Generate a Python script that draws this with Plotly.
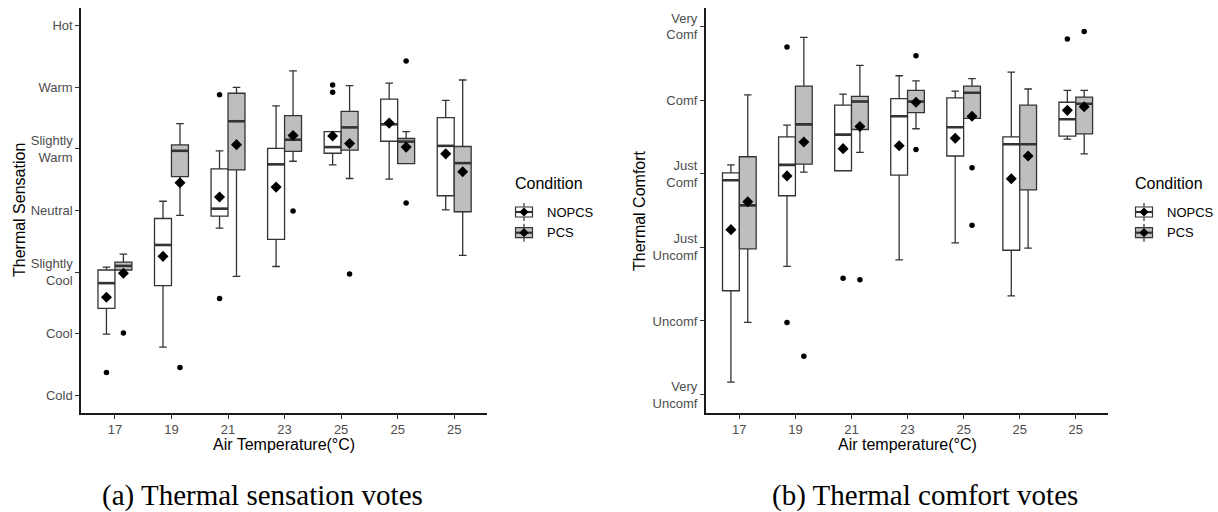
import plotly.graph_objects as go

W, H = 1218, 512

# ---------------- data ----------------
categories = ["17", "19", "21", "23", "25", "25", "25"]
series_names = ["NOPCS", "PCS"]

# (a) Thermal sensation  (Cold=-3 ... Hot=3)
sens_ticks = [-3, -2, -1, 0, 1, 2, 3]
sens_labels = ["Cold", "Cool", "Slightly<br>Cool", "Neutral", "Slightly<br>Warm", "Warm", "Hot"]

sens_nopcs_q1 = [-1.59, -1.22, -0.09, -0.47, 0.93, 1.125, 0.24]
sens_nopcs_med = [-1.18, -0.56, 0.03, 0.75, 1.03, 1.40, 1.05]
sens_nopcs_q3 = [-0.967, -0.13, 0.675, 1.01, 1.28, 1.81, 1.51]
sens_nopcs_lo = [-2.01, -2.22, -0.285, -0.91, 0.74, 0.51, 0.01]
sens_nopcs_hi = [-0.92, 0.15, 0.97, 1.70, 1.28, 2.07, 1.79]
sens_nopcs_mean = [-1.41, -0.745, 0.22, 0.38, 1.21, 1.42, 0.92]
sens_nopcs_out_idx = [0, 2, 2, 4, 4]
sens_nopcs_out_val = [-2.63, 1.88, -1.43, 2.04, 1.92]

sens_pcs_q1 = [-0.967, 0.55, 0.66, 0.96, 0.98, 0.76, -0.02]
sens_pcs_med = [-0.90, 0.97, 1.45, 1.15, 1.35, 1.12, 0.77]
sens_pcs_q3 = [-0.84, 1.065, 1.905, 1.54, 1.61, 1.17, 1.04]
sens_pcs_lo = [-0.967, -0.08, -1.07, 0.80, 0.52, 0.76, -0.73]
sens_pcs_hi = [-0.71, 1.41, 2.00, 2.27, 2.03, 1.28, 2.12]
sens_pcs_mean = [-1.02, 0.45, 1.07, 1.22, 1.09, 1.03, 0.63]
sens_pcs_out_idx = [0, 1, 3, 4, 5, 5]
sens_pcs_out_val = [-1.99, -2.55, -0.01, -1.03, 2.43, 0.12]

# (b) Thermal comfort  (Very Uncomf=1 ... Very Comf=6)
comf_ticks = [1, 2, 3, 4, 5, 6]
comf_labels = ["Very<br>Uncomf", "Uncomf", "Just<br>Uncomf", "Just<br>Comf", "Comf", "Very<br>Comf"]

comf_nopcs_q1 = [2.41, 3.70, 4.04, 3.98, 4.24, 2.96, 4.51]
comf_nopcs_med = [3.91, 4.12, 4.53, 4.78, 4.63, 4.40, 4.74]
comf_nopcs_q3 = [4.01, 4.50, 4.93, 5.02, 5.03, 4.50, 4.97]
comf_nopcs_lo = [1.17, 2.74, 4.04, 2.83, 3.06, 2.34, 4.47]
comf_nopcs_hi = [4.12, 4.66, 5.08, 5.33, 5.12, 5.38, 5.13]
comf_nopcs_mean = [3.24, 3.97, 4.34, 4.38, 4.48, 3.93, 4.86]
comf_nopcs_out_idx = [1, 1, 2, 6]
comf_nopcs_out_val = [5.72, 1.98, 2.58, 5.83]

comf_pcs_q1 = [2.98, 4.13, 4.60, 4.83, 4.75, 3.78, 4.54]
comf_pcs_med = [3.57, 4.67, 4.98, 4.98, 5.10, 4.40, 4.95]
comf_pcs_q3 = [4.23, 5.19, 5.05, 5.13, 5.19, 4.93, 5.04]
comf_pcs_lo = [1.98, 4.02, 4.29, 4.61, 4.75, 2.99, 4.27]
comf_pcs_hi = [5.07, 5.85, 5.47, 5.26, 5.29, 5.15, 5.13]
comf_pcs_mean = [3.62, 4.43, 4.64, 4.97, 4.78, 4.24, 4.91]
comf_pcs_out_idx = [1, 2, 3, 3, 4, 4, 6]
comf_pcs_out_val = [1.52, 2.56, 5.60, 4.33, 4.08, 3.30, 5.93]

# ---------------- style ----------------
FONT = "Liberation Sans, Arial, sans-serif"
SERIF = "Liberation Serif, Times New Roman, serif"
EDGE = "#333333"
FILLS = {"NOPCS": "#FFFFFF", "PCS": "#BEBEBE"}
OFFSETS = {"NOPCS": -0.15, "PCS": 0.15}
BOX_W = 0.3
TICK_GREY = "#4D4D4D"


def px(x):
    return x / W


def py(y):
    return 1 - y / H


fig = go.Figure()


def add_series(xa, ya, name, q1, med, q3, lo, hi, mean, out_idx, out_val):
    off = OFFSETS[name]
    xs = [i + off for i in range(len(categories))]
    fig.add_trace(go.Box(
        x=xs, q1=q1, median=med, q3=q3, lowerfence=lo, upperfence=hi,
        width=BOX_W, fillcolor=FILLS[name], line=dict(color=EDGE, width=1.3),
        whiskerwidth=0.45, boxpoints=False, name=name, showlegend=False,
        xaxis=xa, yaxis=ya, hoverinfo="skip"))
    mx, my = [], []
    for x, m in zip(xs, med):
        mx += [x - BOX_W / 2, x + BOX_W / 2, None]
        my += [m, m, None]
    fig.add_trace(go.Scatter(x=mx, y=my, mode="lines", line=dict(color=EDGE, width=2.6),
                             showlegend=False, xaxis=xa, yaxis=ya, hoverinfo="skip"))
    fig.add_trace(go.Scatter(x=[i + off for i in out_idx], y=out_val, mode="markers",
                             marker=dict(symbol="circle", size=5.5, color="black"),
                             showlegend=False, xaxis=xa, yaxis=ya))
    fig.add_trace(go.Scatter(x=xs, y=mean, mode="markers",
                             marker=dict(symbol="diamond", size=8.5, color="black"),
                             showlegend=False, xaxis=xa, yaxis=ya))


add_series("x", "y", "NOPCS", sens_nopcs_q1, sens_nopcs_med, sens_nopcs_q3, sens_nopcs_lo,
           sens_nopcs_hi, sens_nopcs_mean, sens_nopcs_out_idx, sens_nopcs_out_val)
add_series("x", "y", "PCS", sens_pcs_q1, sens_pcs_med, sens_pcs_q3, sens_pcs_lo,
           sens_pcs_hi, sens_pcs_mean, sens_pcs_out_idx, sens_pcs_out_val)
add_series("x2", "y2", "NOPCS", comf_nopcs_q1, comf_nopcs_med, comf_nopcs_q3, comf_nopcs_lo,
           comf_nopcs_hi, comf_nopcs_mean, comf_nopcs_out_idx, comf_nopcs_out_val)
add_series("x2", "y2", "PCS", comf_pcs_q1, comf_pcs_med, comf_pcs_q3, comf_pcs_lo,
           comf_pcs_hi, comf_pcs_mean, comf_pcs_out_idx, comf_pcs_out_val)

axis_common = dict(showline=True, linecolor="#1A1A1A", linewidth=1.5, ticks="outside",
                   ticklen=4, tickwidth=1.2, tickcolor=EDGE, showgrid=False, zeroline=False,
                   tickfont=dict(family=FONT, size=13, color=TICK_GREY))

Y_DOM = [py(413), py(8)]
fig.update_layout(
    width=W, height=H, margin=dict(l=0, r=0, t=0, b=0),
    paper_bgcolor="white", plot_bgcolor="white", boxmode="overlay",
    font=dict(family=FONT),
    xaxis=dict(domain=[px(81), px(487)], range=[-0.6, 6.58], anchor="y",
               tickmode="array", tickvals=list(range(len(categories))), ticktext=categories,
               **axis_common),
    yaxis=dict(domain=Y_DOM, range=[-3.29, 3.29], anchor="x",
               tickmode="array", tickvals=sens_ticks, ticktext=sens_labels, **axis_common),
    xaxis2=dict(domain=[px(705.7), px(1108.3)], range=[-0.6, 6.58], anchor="y2",
                tickmode="array", tickvals=list(range(len(categories))), ticktext=categories,
                **axis_common),
    yaxis2=dict(domain=Y_DOM, range=[0.75, 6.25], anchor="x2",
                tickmode="array", tickvals=comf_ticks, ticktext=comf_labels, **axis_common),
)

annotations = []


def ann(text, x, y, size, family=FONT, color="black", xanchor="center", angle=0):
    annotations.append(dict(text=text, x=px(x), y=py(y), xref="paper", yref="paper",
                            showarrow=False, xanchor=xanchor, yanchor="middle",
                            textangle=angle, font=dict(family=family, size=size, color=color)))


# axis titles
ann("Air Temperature(°C)", 284, 444, 16)
ann("Air temperature(°C)", 907, 444, 16)
ann("Thermal Sensation", 19, 210, 16, angle=-90)
ann("Thermal Comfort", 639, 211, 16, angle=-90)

# captions
ann("(a) Thermal sensation votes", 262, 495, 29, family=SERIF)
ann("(b) Thermal comfort votes", 925, 495, 29, family=SERIF)

# manual legends
shapes = []


def legend(x_title, x_key, x_text):
    ann("Condition", x_title, 183, 16, xanchor="left")
    for name, cy in zip(series_names, [212, 232.7]):
        kx0, kx1 = x_key, x_key + 18
        cx = (kx0 + kx1) / 2
        shapes.append(dict(type="line", xref="paper", yref="paper", x0=px(cx), x1=px(cx),
                           y0=py(cy - 9), y1=py(cy + 9), line=dict(color=EDGE, width=1.2)))
        shapes.append(dict(type="rect", xref="paper", yref="paper", x0=px(kx0 + 0.5),
                           x1=px(kx1 - 0.5), y0=py(cy - 5), y1=py(cy + 5),
                           fillcolor=FILLS[name], line=dict(color=EDGE, width=1.2)))
        shapes.append(dict(type="line", xref="paper", yref="paper", x0=px(kx0 + 0.5),
                           x1=px(kx1 - 0.5), y0=py(cy), y1=py(cy),
                           line=dict(color=EDGE, width=2.2)))
        d = 4.6
        path = (f"M {px(cx - d)},{py(cy)} L {px(cx)},{py(cy - d)} L {px(cx + d)},{py(cy)} "
                f"L {px(cx)},{py(cy + d)} Z")
        shapes.append(dict(type="path", xref="paper", yref="paper", path=path,
                           fillcolor="black", line=dict(color="black", width=0)))
        ann(name, x_text, cy, 13, xanchor="left")


legend(512.7, 515, 545)
legend(1133.3, 1135, 1165)

fig.update_layout(annotations=annotations, shapes=shapes)
fig.write_html("out.html")
